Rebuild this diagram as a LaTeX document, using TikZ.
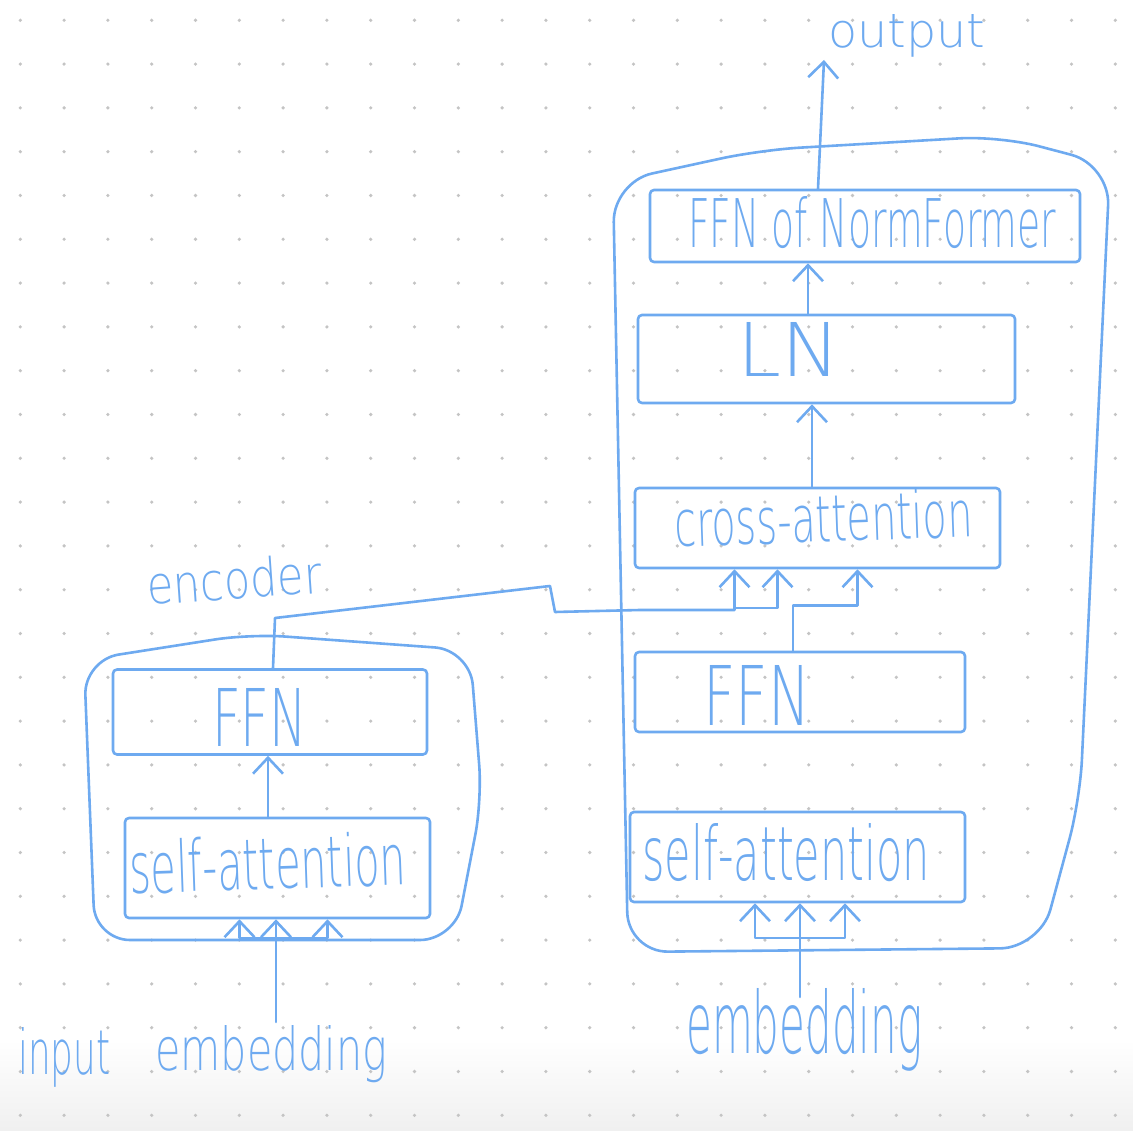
\documentclass[tikz,border=0pt]{standalone}
\usepackage{fontspec}
\setmainfont{DejaVu Sans ExtraLight}
\usetikzlibrary{arrows.meta,calc}
\definecolor{pen}{RGB}{110,170,240}
\definecolor{dotc}{RGB}{196,196,196}
\newcommand{\hw}[3]{\resizebox{#1pt}{#2pt}{#3}}
\begin{document}
\begin{tikzpicture}[x=1pt,y=-1pt,
  hand/.style={draw=pen,line width=2.6pt,line cap=round,line join=round},
  box/.style={hand,rounded corners=4pt,inner sep=0pt},
  lbl/.style={text=pen,inner sep=0pt,anchor=base west},
  arr/.style={hand,-{Straight Barb[length=16pt,width=30pt,line width=2.6pt]}}]

\useasboundingbox (0,0) rectangle (1133,1131);
\fill[white] (0,0) rectangle (1133,1131);
\shade[top color=white,bottom color=black!6] (0,1040) rectangle (1133,1131);
\foreach \i in {0,...,25}{\foreach \j in {0,...,25}{
  \fill[dotc] (20.3+43.8*\i,20.3+43.8*\j) circle[radius=1.8pt];}}

% containers
\draw[hand,rounded corners=40pt] (613,182) -- (760,150) -- (1000,136) -- (1110,165) -- (1080,800) -- (1040,948) -- (628,952) -- cycle;
\draw[hand,rounded corners=35pt] (84,660) -- (250,634) -- (470,650) -- (482,800) -- (455,940) -- (95,940) -- cycle;

% decoder boxes
\node[box,minimum width=430pt,minimum height=72pt] (nf) at (865,226) {};
\node[box,minimum width=377pt,minimum height=88pt] (ln) at (826.5,359) {};
\node[box,minimum width=365pt,minimum height=80pt] (xa) at (817.5,528) {};
\node[box,minimum width=330pt,minimum height=80pt] (rf) at (800,692) {};
\node[box,minimum width=335pt,minimum height=90pt] (rs) at (797.5,857) {};
% encoder boxes
\node[box,minimum width=305pt,minimum height=100pt] (ls) at (277.5,868) {};
\node[box,minimum width=314pt,minimum height=85pt] (lf) at (270,712) {};

% labels
\node[lbl] (out) at (828,48) {\hw{157}{33}{output}};
\node[lbl] (nft) at (688,248) {\hw{368}{51}{FFN of NormFormer}};
\node[lbl] (lnt) at (737,377) {\hw{103}{54}{LN}};
\node[lbl,rotate=2] (xat) at (675,547) {\hw{298}{49}{cross-attention}};
\node[lbl] (rft) at (703,725) {\hw{107}{60}{FFN}};
\node[lbl] (rst) at (642,880) {\hw{288}{57}{self-attention}};
\node[lbl,rotate=2] (lst) at (130,894) {\hw{277}{54}{self-attention}};
\node[lbl] (lft) at (212,746) {\hw{95}{58}{FFN}};
\node[lbl,rotate=4] (enc) at (148,605) {\hw{175}{40}{encoder}};
\node[lbl] (inp) at (18,1074) {\hw{92}{47}{input}};
\node[lbl] (embL) at (155,1070) {\hw{232}{45}{embedding}};
\node[lbl] (embR) at (686,1053) {\hw{236}{65}{embedding}};

% coordinates
\coordinate (outtip) at (824,60);
\coordinate (inL) at (276,1022);
\coordinate (jL) at (276,938);
\coordinate (inR) at (800,997);
\coordinate (jR) at (800,938);
\coordinate (ej) at (734.5,608);

% decoder flow
\draw[arr] ([xshift=-47pt]nf.north) -- (outtip);
\draw[arr] ([xshift=-18.5pt]ln.north) -- ([xshift=-57pt]nf.south);
\draw[arr] ([xshift=-5.5pt]xa.north) -- ([xshift=-14.5pt]ln.south);
\draw[arr] ([xshift=-7pt]rf.north) -- ++(0,-45) -| ([xshift=40pt]xa.south);
\draw[arr] (inR) -- ([xshift=2.5pt]rs.south);
\draw[arr] (jR) -| ([xshift=-42.5pt]rs.south);
\draw[arr] (jR) -| ([xshift=47.5pt]rs.south);

% encoder flow
\draw[arr] (inL) -- ([xshift=-1.5pt]ls.south);
\draw[arr] (jL) -| ([xshift=-38pt]ls.south);
\draw[arr] (jL) -| ([xshift=50pt]ls.south);
\draw[arr] ([xshift=-9.5pt]ls.north) -- ([xshift=-2pt]lf.south);

% encoder output to cross-attention
\draw[arr] ([xshift=3pt]lf.north) -- (275,618) -- (550,586) -- (555,612) -- (640,610) -| ([xshift=-83pt]xa.south);
\draw[arr] (ej) -| ([xshift=-40pt]xa.south);
\end{tikzpicture}
\end{document}
